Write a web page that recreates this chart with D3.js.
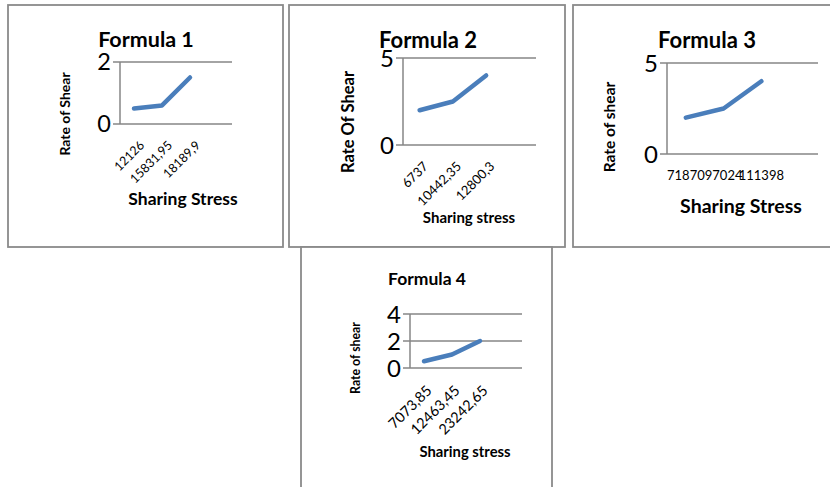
<!DOCTYPE html>
<html>
<head>
<meta charset="utf-8">
<script src="https://cdn.jsdelivr.net/npm/d3@7"></script>
<style>
  html, body { margin: 0; padding: 0; background: #fff; }
  svg { display: block; }
  text { font-family: Lato, "Open Sans", "Liberation Sans", sans-serif; fill: #000; }
</style>
</head>
<body>
<svg id="chart" width="830" height="487"></svg>
<script>
// ---- data ----
const titles = ["Formula 1", "Formula 2", "Formula 3", "Formula 4"];
const yTitles = ["Rate of Shear", "Rate Of Shear", "Rate of shear", "Rate of shear"];
const xTitles = ["Sharing Stress", "Sharing stress", "Sharing Stress", "Sharing stress"];

const categories1 = ["12126", "15831,95", "18189,9"];
const rates1 = [0.5, 0.6, 1.5];
const yTicks1 = [0, 2];

const categories2 = ["6737", "10442,35", "12800,3"];
const rates2 = [2, 2.5, 4];
const yTicks2 = [0, 5];

const categories3 = ["71870", "97024", "111398"];
const rates3 = [2, 2.5, 4];
const yTicks3 = [0, 5];

const categories4 = ["7073,85", "12463,45", "23242,65"];
const rates4 = [0.5, 1, 2];
const yTicks4 = [0, 2, 4];

// ---- layout of each small chart (frame, plot area, text styling) ----
const panels = [
  { frame: [8, 5, 283, 247], plot: [120, 62, 232, 124], ticks: yTicks1, cats: categories1, vals: rates1,
    title: { x: 146, y: 47, size: 21.5 }, tickSize: 23.5,
    yTitle: { x: 65, y: 114, size: 14 }, xTitle: { x: 183, y: 205, size: 17.5 },
    xLab: { size: 12.5, rotate: true, dx: 8, dy: 19 } },
  { frame: [289, 5, 565, 247], plot: [403, 58, 536, 145], ticks: yTicks2, cats: categories2, vals: rates2,
    title: { x: 428, y: 48, size: 22 }, tickSize: 24,
    yTitle: { x: 348, y: 122, size: 16.5 }, xTitle: { x: 469, y: 223, size: 15 },
    xLab: { size: 13, rotate: true, dx: 6, dy: 19 } },
  { frame: [573, 5, 840, 247], plot: [667, 63, 818, 154], ticks: yTicks3, cats: categories3, vals: rates3,
    title: { x: 707, y: 48, size: 22 }, tickSize: 24,
    yTitle: { x: 610, y: 127, size: 15.5 }, xTitle: { x: 741, y: 213, size: 19.5 },
    xLab: { size: 13, rotate: false } },
  { frame: [301, 247, 552, 500], plot: [410, 314, 522, 368], ticks: yTicks4, cats: categories4, vals: rates4,
    title: { x: 427, y: 285, size: 17.5 }, tickSize: 24,
    yTitle: { x: 356, y: 358, size: 12.3 }, xTitle: { x: 465, y: 457, size: 14.8 },
    xLab: { size: 14.5, rotate: true, dx: 5, dy: 20 } }
];

const svg = d3.select("#chart");
const gridColor = "#868686";
const lineColor = "#4a7ebb";
const slotCount = 4; // category axis leaves one empty slot after the last point

panels.forEach((p, i) => {
  const [fx0, fy0, fx1, fy1] = p.frame;
  const [px0, py0, px1, py1] = p.plot;
  const g = svg.append("g");

  // frame
  g.append("rect")
    .attr("x", fx0).attr("y", fy0)
    .attr("width", fx1 - fx0).attr("height", fy1 - fy0)
    .attr("fill", "#fff").attr("stroke", "#8a8a8a").attr("stroke-width", 1.8);

  const x = d3.scaleBand().domain(d3.range(slotCount)).range([px0, px1]);
  const y = d3.scaleLinear().domain(d3.extent(p.ticks)).range([py1, py0]);
  const cx = j => x(j) + x.bandwidth() / 2;

  // gridlines with tick stubs to the left of the axis
  g.selectAll(".grid").data(p.ticks).join("line")
    .attr("x1", px0 - 7).attr("x2", px1)
    .attr("y1", d => y(d)).attr("y2", d => y(d))
    .attr("stroke", gridColor).attr("stroke-width", 1.5);

  // value axis line
  g.append("line")
    .attr("x1", px0).attr("x2", px0)
    .attr("y1", y(d3.max(p.ticks))).attr("y2", y(0))
    .attr("stroke", gridColor).attr("stroke-width", 1.5);

  // value tick labels
  g.selectAll(".ytick").data(p.ticks).join("text")
    .attr("x", px0 - 9).attr("y", d => y(d))
    .attr("dy", "0.36em")
    .attr("text-anchor", "end")
    .style("font-size", p.tickSize + "px")
    .text(d => d);

  // category labels
  const labels = g.selectAll(".xtick").data(p.cats).join("text")
    .style("font-size", p.xLab.size + "px")
    .text(d => d);
  if (p.xLab.rotate) {
    labels
      .attr("text-anchor", "end")
      .attr("transform", (d, j) => `translate(${cx(j) + p.xLab.dx},${y(0) + p.xLab.dy}) rotate(-45)`)
      .attr("dy", "0.35em");
  } else {
    labels
      .attr("text-anchor", "middle")
      .attr("x", (d, j) => cx(j))
      .attr("y", y(0) + 26);
  }

  // series line
  const line = d3.line()
    .x((d, j) => cx(j))
    .y(d => y(d));
  g.append("path")
    .datum(p.vals)
    .attr("d", line)
    .attr("fill", "none")
    .attr("stroke", lineColor)
    .attr("stroke-width", 4.5)
    .attr("stroke-linecap", "round")
    .attr("stroke-linejoin", "round");

  // titles
  g.append("text")
    .attr("x", p.title.x).attr("y", p.title.y)
    .attr("text-anchor", "middle")
    .style("font-size", p.title.size + "px").style("font-weight", "bold")
    .text(titles[i]);

  g.append("text")
    .attr("transform", `translate(${p.yTitle.x},${p.yTitle.y}) rotate(-90)`)
    .attr("text-anchor", "middle")
    .attr("dy", "0.35em")
    .style("font-size", p.yTitle.size + "px").style("font-weight", "bold")
    .text(yTitles[i]);

  g.append("text")
    .attr("x", p.xTitle.x).attr("y", p.xTitle.y)
    .attr("text-anchor", "middle")
    .style("font-size", p.xTitle.size + "px").style("font-weight", "bold")
    .text(xTitles[i]);
});
</script>
</body>
</html>
